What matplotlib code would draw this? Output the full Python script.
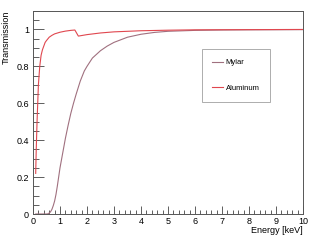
import matplotlib
matplotlib.use("Agg")
import matplotlib.pyplot as plt
from matplotlib.ticker import MultipleLocator

energy_mylar = [0.1, 0.3, 0.5, 0.55, 0.6, 0.65, 0.7, 0.75, 0.8, 0.85, 0.9, 0.95, 1.0, 1.1, 1.2, 1.3, 1.4, 1.5, 1.6, 1.75, 1.9, 2.0, 2.2, 2.5, 2.75, 3.0, 3.5, 4.0, 4.5, 5.0, 6.0, 7.0, 8.0, 10.0]
trans_mylar = [0.0, 0.0, 0.0, 0.001, 0.005, 0.012, 0.025, 0.045, 0.07, 0.105, 0.15, 0.20, 0.25, 0.33, 0.41, 0.48, 0.545, 0.60, 0.65, 0.72, 0.775, 0.80, 0.845, 0.885, 0.91, 0.93, 0.958, 0.974, 0.984, 0.99, 0.995, 0.997, 0.998, 0.999]

energy_al = [0.1, 0.12, 0.15, 0.2, 0.25, 0.3, 0.35, 0.4, 0.45, 0.5, 0.6, 0.7, 0.8, 1.0, 1.2, 1.4, 1.55, 1.68, 2.0, 2.5, 3.0, 4.0, 5.0, 6.0, 8.0, 10.0]
trans_al = [0.22, 0.35, 0.50, 0.70, 0.80, 0.86, 0.89, 0.91, 0.93, 0.94, 0.958, 0.968, 0.976, 0.985, 0.991, 0.995, 0.997, 0.964, 0.972, 0.981, 0.987, 0.993, 0.996, 0.998, 0.999, 1.0]

mylar_color = "#a0707f"
al_color = "#e0474f"

plt.rcParams['font.family'] = ['Liberation Sans', 'DejaVu Sans']

fig = plt.figure(figsize=(3.18, 2.42), dpi=100)
ax = fig.add_axes([33/318, 1-214/242, 270/318, 203/242])

ax.plot(energy_mylar, trans_mylar, color=mylar_color, lw=0.8, label="Mylar")
ax.plot(energy_al, trans_al, color=al_color, lw=0.8, label="Aluminum")

ax.set_xlim(0, 10)
ax.set_ylim(0, 1.1)
ax.xaxis.set_major_locator(MultipleLocator(1))
ax.xaxis.set_minor_locator(MultipleLocator(0.2))
ax.yaxis.set_minor_locator(MultipleLocator(0.05))
ax.set_yticks([0, 0.2, 0.4, 0.6, 0.8, 1.0])
ax.set_yticklabels(["0", "0.2", "0.4", "0.6", "0.8", "1"])
ax.tick_params(axis='both', which='both', direction='in', top=False, right=False,
               labelsize=6.5, color='#444444', width=0.6)
ax.tick_params(axis='x', which='major', length=6, pad=2)
ax.tick_params(axis='x', which='minor', length=3)
ax.tick_params(axis='y', which='major', length=8, pad=3)
ax.tick_params(axis='y', which='minor', length=4)
for s in ax.spines.values():
    s.set_color('#555555')
    s.set_linewidth(0.7)

ax.set_xlabel("Energy [keV]", fontsize=6.5, loc='right', labelpad=0)
ax.set_ylabel("Transmission", fontsize=6.5, loc='top', labelpad=4)

leg = ax.legend(loc='upper left', bbox_to_anchor=(202/318, 1-49/242, 68/318, 0.0),
                bbox_transform=fig.transFigure, mode='expand', fontsize=5.5,
                frameon=True, fancybox=False, edgecolor='#888888',
                handlelength=1.4, handletextpad=0.4, labelspacing=2.4,
                borderpad=1.3, borderaxespad=0)
leg.get_frame().set_linewidth(0.6)

fig.savefig("out.png", dpi=100)
